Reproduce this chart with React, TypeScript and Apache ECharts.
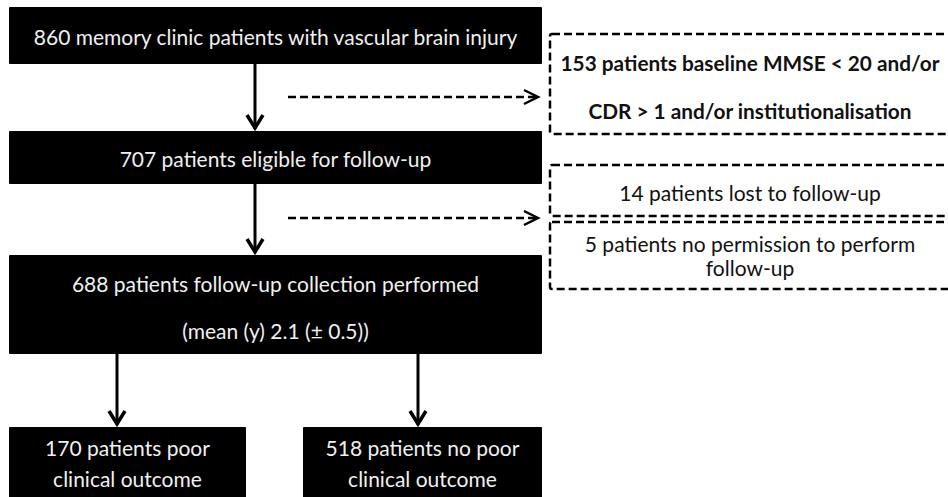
import React, { useEffect, useRef } from "react";
import * as echarts from "echarts";

// ---- data ----
const mainNodeTexts: string[][] = [
  ["860 memory clinic patients with vascular brain injury"],
  ["707 patients eligible for follow-up"],
  ["688 patients follow-up collection performed", "(mean (y) 2.1 (± 0.5))"],
  ["170 patients poor", "clinical outcome"],
  ["518 patients no poor", "clinical outcome"],
];
const exclusionTexts: string[][] = [
  ["153 patients baseline MMSE < 20 and/or", "CDR > 1 and/or institutionalisation"],
  ["14 patients lost to follow-up"],
  ["5 patients no permission to perform", "follow-up"],
];
const exclusionBold: boolean[] = [true, false, false];

// ---- layout (positions / sizes) ----
const FONT = "Lato";
const mainBoxes = [
  { x: 9, y: 7, w: 533, h: 57, lines: [36] },
  { x: 9, y: 131, w: 533, h: 53, lines: [158] },
  { x: 9, y: 255, w: 533, h: 99, lines: [283, 330] },
  { x: 9, y: 427, w: 237, h: 80, lines: [447, 478] },
  { x: 303, y: 427, w: 239, h: 80, lines: [447, 478] },
];
const exBoxes = [
  { x: 550, y: 34, w: 420, h: 100, lines: [62, 110] },
  { x: 550, y: 165, w: 420, h: 51, lines: [192] },
  { x: 550, y: 222, w: 420, h: 67, lines: [243, 267] },
];
const solidArrows = [
  { x: 255, y1: 64, y2: 130 },
  { x: 255, y1: 184, y2: 254 },
  { x: 117, y1: 354, y2: 426 },
  { x: 418, y1: 354, y2: 426 },
];
const dashedArrows = [
  { y: 97, x1: 288, x2: 538 },
  { y: 218, x1: 288, x2: 538 },
];

function buildGraphics() {
  const els: any[] = [];
  mainBoxes.forEach((b, i) => {
    els.push({
      type: "rect",
      shape: { x: b.x, y: b.y, width: b.w, height: b.h, r: 1 },
      style: { fill: "#000" },
    });
    mainNodeTexts[i].forEach((t, j) => {
      els.push({
        type: "text",
        x: b.x + b.w / 2,
        y: b.lines[j],
        style: {
          text: t,
          fill: "#f0f0f0",
          font: `21px ${FONT}`,
          textAlign: "center",
          textVerticalAlign: "middle",
        },
      });
    });
  });
  exBoxes.forEach((b, i) => {
    els.push({
      type: "rect",
      shape: { x: b.x, y: b.y, width: b.w, height: b.h, r: 2 },
      style: { fill: "rgba(0,0,0,0)", stroke: "#000", lineWidth: 2.5, lineDash: [8, 4] },
    });
    exclusionTexts[i].forEach((t, j) => {
      els.push({
        type: "text",
        x: 750,
        y: b.lines[j],
        style: {
          text: t,
          fill: "#111",
          font: `${exclusionBold[i] ? "bold 20.8px" : "21px"} ${FONT}`,
          textAlign: "center",
          textVerticalAlign: "middle",
        },
      });
    });
  });
  solidArrows.forEach((a) => {
    els.push({
      type: "line",
      shape: { x1: a.x, y1: a.y1, x2: a.x, y2: a.y2 - 1 },
      style: { stroke: "#000", lineWidth: 3 },
    });
    els.push({
      type: "polyline",
      shape: { points: [[a.x - 8, a.y2 - 15], [a.x, a.y2 - 2], [a.x + 8, a.y2 - 15]] },
      style: { stroke: "#000", lineWidth: 3.5, fill: "none" },
    });
  });
  dashedArrows.forEach((a) => {
    els.push({
      type: "line",
      shape: { x1: a.x1, y1: a.y, x2: a.x2 - 2, y2: a.y },
      style: { stroke: "#000", lineWidth: 2.5, lineDash: [8, 4] },
    });
    els.push({
      type: "polyline",
      shape: { points: [[a.x2 - 14, a.y - 7], [a.x2, a.y], [a.x2 - 14, a.y + 7]] },
      style: { stroke: "#000", lineWidth: 2.5, fill: "none" },
    });
  });
  return els;
}

export default function App() {
  const ref = useRef<HTMLDivElement>(null);
  useEffect(() => {
    if (!ref.current) return;
    const chart = echarts.init(ref.current, null, { renderer: "svg" });
    chart.setOption({
      animation: false,
      backgroundColor: "#ffffff",
      graphic: { elements: buildGraphics() },
    });
    return () => chart.dispose();
  }, []);
  return (
    <div
      ref={ref}
      style={{ position: "fixed", left: 0, top: 0, width: 948, height: 497, background: "#fff" }}
    />
  );
}
